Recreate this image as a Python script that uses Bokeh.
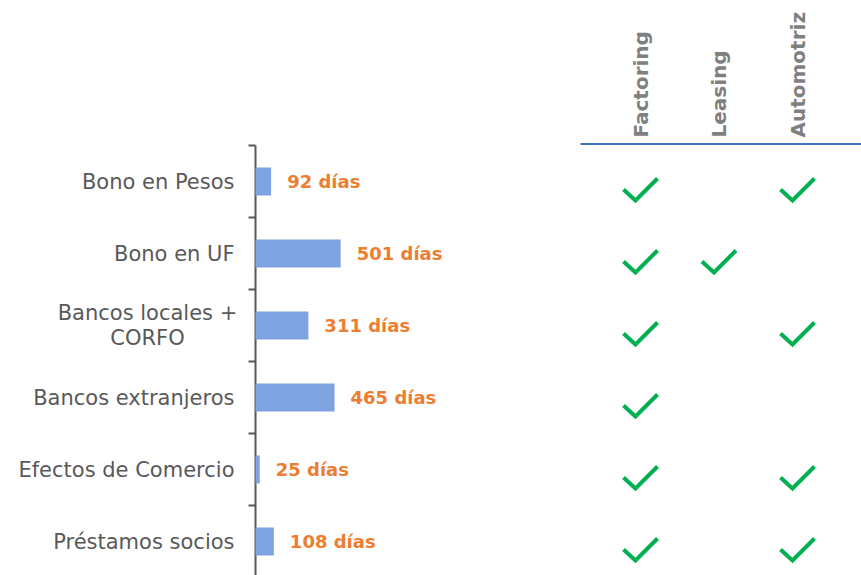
import numpy as np
from bokeh.plotting import figure
from bokeh.models import Range1d
from bokeh.embed import file_html
from bokeh.resources import INLINE
from bokeh.core.properties import value

# ---------------- data ----------------
categories = ["Bono en Pesos", "Bono en UF", "Bancos locales +\nCORFO",
              "Bancos extranjeros", "Efectos de Comercio", "Préstamos socios"]
days = [92, 501, 311, 465, 25, 108]
day_labels = [f"{d} días" for d in days]
products = ["Factoring", "Leasing", "Automotriz"]
factoring = [1, 1, 1, 1, 1, 1]
leasing = [0, 1, 0, 0, 0, 0]
automotriz = [1, 0, 1, 0, 1, 1]

# ---------------- layout constants (pixels) ----------------
W, H = 861, 575
PX_PER_DAY = 0.17
AXIS_X = 255          # frame x of the value axis
ROW0_Y = 181          # frame y of the first row centre
ROW_PX = 72
COL0_X = 640          # frame x of the first table column
COL_PX = 78.5
FONT = value("DejaVu Sans")

p = figure(width=W, height=H, output_backend="svg", toolbar_location=None,
           x_range=Range1d(-AXIS_X / PX_PER_DAY, (W - AXIS_X) / PX_PER_DAY),
           y_range=Range1d((H - ROW0_Y) / ROW_PX, -ROW0_Y / ROW_PX),
           min_border=0, outline_line_color=None)
p.extra_x_ranges = {"tbl": Range1d(-COL0_X / COL_PX, (W - COL0_X) / COL_PX)}
p.axis.visible = False
p.grid.visible = False
p.background_fill_color = "white"
p.border_fill_color = "white"

idx = list(range(len(categories)))

# value axis line and tick marks at category boundaries
bounds = [i - 0.5 for i in range(len(categories) + 1)]
p.segment(x0=0, y0=-0.5, x1=0, y1=len(categories), line_color="#595959", line_width=2)
p.segment(x0=[0] * len(bounds), y0=bounds, x1=[-7 / PX_PER_DAY] * len(bounds), y1=bounds,
          line_color="#595959", line_width=2)

# bars
p.hbar(y=idx, left=0, right=days, height=28 / ROW_PX, fill_color="#7EA3E0", line_color=None)

# value labels
p.text(x=days, y=idx, text=day_labels, x_offset=16, text_baseline="middle",
       text_font=FONT, text_font_style="bold", text_font_size="18px", text_color="#ED7D31")

# category labels (single line right-aligned, two-line centred)
one = [i for i in idx if "\n" not in categories[i]]
two = [i for i in idx if "\n" in categories[i]]
p.text(x=[0] * len(one), y=one, text=[categories[i] for i in one], x_offset=-21,
       text_align="right", text_baseline="middle", text_font=FONT, text_font_size="21px",
       text_color="#595959")
p.text(x=[0] * len(two), y=two, text=[categories[i] for i in two], x_offset=-108,
       text_align="center", text_baseline="middle", text_font=FONT, text_font_size="21px",
       text_color="#595959", text_line_height=1.02)

# table headers
p.text(x=list(range(len(products))), y=[-0.5] * len(products), text=products,
       y_offset=-8, angle=np.pi / 2, text_align="left", text_baseline="middle",
       text_font=FONT, text_font_style="bold", text_font_size="20px", text_color="#7F7F7F",
       x_range_name="tbl")

# header rule
p.segment(x0=(580 - COL0_X) / COL_PX, y0=-0.5 - 1.5 / ROW_PX,
          x1=(W - COL0_X) / COL_PX, y1=-0.5 - 1.5 / ROW_PX,
          line_color="#4472C4", line_width=2, x_range_name="tbl")

# check marks
shape_x = np.array([-17, -5, 17]) / COL_PX
shape_y = (np.array([0, 11, -11]) + 8) / ROW_PX
xs, ys = [], []
for c, flags in enumerate([factoring, leasing, automotriz]):
    for r, f in enumerate(flags):
        if f:
            xs.append(list(c + shape_x))
            ys.append(list(r + shape_y))
p.multi_line(xs=xs, ys=ys, line_color="#00B050", line_width=4, line_join="miter",
             x_range_name="tbl")

open("out.html", "w").write(file_html(p, INLINE))
